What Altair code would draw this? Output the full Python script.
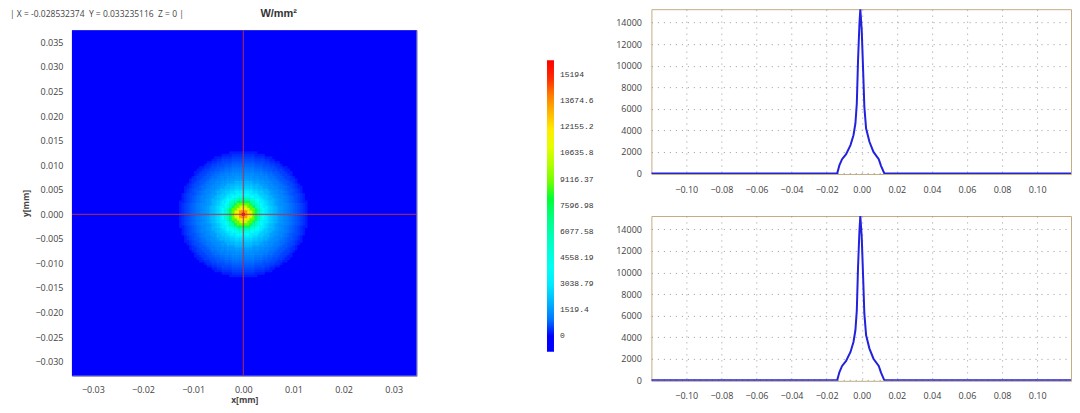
import pandas as pd
import altair as alt

# line profile (mm, W/mm2)
profile_x = [-0.12, -0.0140, -0.0127, -0.0112, -0.0089, -0.0064, -0.0047, -0.0036, -0.0028, -0.0021, -0.0013,
             -0.0008, 0.0000, 0.0008, 0.0015, 0.0025, 0.0044, 0.0067, 0.0097, 0.0110, 0.0129, 0.1193]
profile_y = [0, 0, 770, 1330, 1790, 2630, 3550, 4640, 6490, 10500, 13900,
             15240, 13300, 9580, 6180, 4170, 2940, 2000, 1330, 710, 0, 0]

# radial irradiance in rings of 0.0005 mm
radial = [15194, 13500, 12000, 10500, 8800, 7400, 6000, 4700, 3700, 3100, 2700, 2400, 2150, 1950,
          1620, 1480, 1340, 1200, 1060, 900, 740, 590, 450, 320, 200, 90]
ring = 0.0005

legend_values = [0, 1519.4, 3038.79, 4558.19, 6077.58, 7596.98, 9116.37, 10635.8, 12155.2, 13674.6, 15194]
color_stops = [-910, 0, 3440, 8270, 11656, 15194, 16064]
color_range = ["#0000ff", "#0000ff", "#00ffff", "#00ff00", "#ffff00", "#ff0000", "#ff0000"]

x_ticks_heat = [-0.03, -0.02, -0.01, 0.0, 0.01, 0.02, 0.03]
y_ticks_heat = [0.035, 0.03, 0.025, 0.02, 0.015, 0.01, 0.005, 0.0, -0.005, -0.01, -0.015, -0.02, -0.025, -0.03]
x_ticks_line = [-0.10, -0.08, -0.06, -0.04, -0.02, 0.0, 0.02, 0.04, 0.06, 0.08, 0.10]
y_ticks_line = [0, 2000, 4000, 6000, 8000, 10000, 12000, 14000]

FONT = "Open Sans"
LABEL = "#444444"

rows = []
n = len(radial)
for i in range(-n, n + 1):
    for j in range(-n, n + 1):
        k = int(round((i * i + j * j) ** 0.5))
        if k < n:
            rows.append({"x0": (i - 0.6) * ring, "x1": (i + 0.6) * ring,
                         "y0": (j - 0.6) * ring, "y1": (j + 0.6) * ring, "v": radial[k]})
cells = pd.DataFrame(rows)

hx = alt.Scale(domain=[-0.03418, 0.03458], nice=False, zero=False)
hy = alt.Scale(domain=[-0.03289, 0.03749], nice=False, zero=False)

ax_x = alt.Axis(values=x_ticks_heat, format=".2f", title="x[mm]", grid=False, ticks=False, domain=False,
                labelOverlap=False, labelFlush=False,
                labelFont=FONT, labelFontSize=9, labelColor=LABEL, labelPadding=10,
                titleFont=FONT, titleFontSize=8.5, titleFontWeight="bold", titleColor=LABEL, titlePadding=1)
ax_y = alt.Axis(values=y_ticks_heat, format=".3f", title="y[mm]", grid=False, ticks=False, domain=False,
                labelOverlap=False, labelFlush=False,
                labelFont=FONT, labelFontSize=9, labelColor=LABEL, labelPadding=9,
                titleFont=FONT, titleFontSize=8.5, titleFontWeight="bold", titleColor=LABEL, titlePadding=4)

base_bg = alt.Chart(alt.Data(values=[{"a": -0.03418, "b": 0.03458, "c": -0.03289, "d": 0.03749}])).mark_rect(color="#0000ff").encode(
    x=alt.X("a:Q", scale=hx, axis=ax_x), x2="b:Q",
    y=alt.Y("c:Q", scale=hy, axis=ax_y), y2="d:Q",
)
heat_layer = alt.Chart(cells).mark_rect(stroke=None).encode(
    x=alt.X("x0:Q", scale=hx, axis=ax_x), x2="x1:Q", y=alt.Y("y0:Q", scale=hy, axis=ax_y), y2="y1:Q",
    order=alt.Order("v:Q"),
    color=alt.Color("v:Q", scale=alt.Scale(domain=color_stops, range=color_range, nice=False, zero=False, clamp=True),
                    legend=alt.Legend(orient="none", legendX=475.5, legendY=51, title=None, gradientLength=292, gradientThickness=7,
                                      values=legend_values, format=".6~g", labelFont="Liberation Mono", labelFontSize=8,
                                      labelColor="#333333", labelOverlap=False, gradientStrokeWidth=0, labelOffset=6)),
)
cross_v = alt.Chart(alt.Data(values=[{"p": 0.0}])).mark_rule(color="#b83048", strokeWidth=1).encode(x=alt.X("p:Q", scale=hx, axis=ax_x))
cross_h = alt.Chart(alt.Data(values=[{"p": 0.0}])).mark_rule(color="#b83048", strokeWidth=1).encode(y=alt.Y("p:Q", scale=hy, axis=ax_y))

heat = alt.layer(base_bg, heat_layer, cross_v, cross_h).properties(width=345, height=346, view=alt.ViewConfig(stroke="#8a8aa0"))

one = alt.Data(values=[{"k": 1}])
status = alt.Chart(one).mark_text(text="| X = -0.028532374 \u00a0Y = 0.033235116 \u00a0Z = 0 |", align="left", baseline="middle",
                                  font=FONT, fontSize=8.5, color="#444444").encode(x=alt.value(-62), y=alt.value(5))
unit = alt.Chart(one).mark_text(text="W/mm²", align="center", baseline="middle", font="Liberation Sans",
                                fontSize=11, fontWeight="bold", color="#333333").encode(x=alt.value(207), y=alt.value(5))
header = alt.layer(status, unit).properties(width=345, height=21, view=alt.ViewConfig(stroke=None))

left = alt.vconcat(header, heat, spacing=0, bounds="flush")


def line_panel():
    d = pd.DataFrame({"x": profile_x, "y": profile_y, "idx": list(range(len(profile_x)))})
    return alt.Chart(d).mark_line(color="#2222dd", strokeWidth=2, clip=True).encode(
        x=alt.X("x:Q", scale=alt.Scale(domain=[-0.1199, 0.1193], nice=False, zero=False),
                axis=alt.Axis(values=x_ticks_line, format=".2f", title=None, ticks=False, domain=False, labelFont=FONT, labelFontSize=9,
                              labelOverlap=False, labelFlush=False,
                              labelColor=LABEL, labelPadding=11, grid=True, gridColor="#999999", gridDash=[1, 5])),
        y=alt.Y("y:Q", scale=alt.Scale(domain=[-50, 15240], nice=False, zero=False),
                axis=alt.Axis(values=y_ticks_line, format="d", title=None, ticks=False, domain=False, labelFont=FONT, labelFontSize=9,
                              labelOverlap=False, labelFlush=False,
                              labelColor=LABEL, labelPadding=10, grid=True, gridColor="#999999", gridDash=[1, 5])),
        order=alt.Order("idx:Q"),
    ).properties(width=420, height=165)


right = alt.vconcat(line_panel(), line_panel(), spacing=42, bounds="flush")

chart = alt.hconcat(left, right, spacing=580, bounds="flush").properties(padding={"left": 2, "top": 0, "right": 0, "bottom": 0}).resolve_scale(color="independent").configure_view(stroke="#c4ad85")

chart.save("out.html", embed_options={"renderer": "svg", "actions": False})
